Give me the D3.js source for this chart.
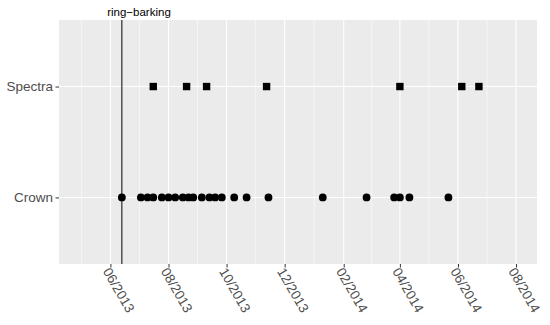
<!DOCTYPE html>
<html>
<head>
<meta charset="utf-8">
<script src="https://cdn.jsdelivr.net/npm/d3@7"></script>
<style>
  body { margin: 0; background: #fff; }
  text { font-family: "Liberation Sans", Arial, sans-serif; }
</style>
</head>
<body>
<script>
(function() {

var crown_dates = [
  "2013-06-13", "2013-07-03", "2013-07-10", "2013-07-16", "2013-07-25",
  "2013-08-01", "2013-08-08", "2013-08-16", "2013-08-22", "2013-08-27",
  "2013-09-05", "2013-09-13", "2013-09-19", "2013-09-26", "2013-10-09",
  "2013-10-22", "2013-11-14", "2014-01-10", "2014-02-25", "2014-03-26",
  "2014-04-01", "2014-04-11", "2014-05-22"
];
var spectra_dates = [
  "2013-07-16", "2013-08-20", "2013-09-10", "2013-11-12",
  "2014-04-01", "2014-06-05", "2014-06-23"
];
var categories = ["Crown", "Spectra"];
var x_ticks = [
  "2013-06-01", "2013-08-01", "2013-10-01", "2013-12-01",
  "2014-02-01", "2014-04-01", "2014-06-01", "2014-08-01"
];
var x_limits = ["2013-04-08", "2014-08-23"];
var ringbark_date = "2013-06-13",
    ringbark_label_date = "2013-07-01",
    ringbark_label = "ring\u2212barking";

var width = 550, height = 325,
    m = {top: 20, right: 13, bottom: 61, left: 59},
    pw = width - m.left - m.right,
    ph = height - m.top - m.bottom,
    parse = d3.timeParse("%Y-%m-%d"),
    fmt = d3.timeFormat("%m/%Y");

var x = d3.scaleTime()
  .domain(x_limits.map(parse))
  .range([0, pw]);

// discrete y with ggplot's 0.6 expansion
var y_num = d3.scaleLinear().domain([0.4, 2.6]).range([ph, 0]);
var y = function(c) { return y_num(categories.indexOf(c) + 1); };

var majors = x_ticks.map(parse);
// minor breaks half way between majors (one extra on each side)
var minors = [];
for (var i = -1; i < majors.length; i++) {
  var a = i < 0 ? d3.timeMonth.offset(majors[0], -2) : majors[i],
      b = i + 1 < majors.length ? majors[i+1] : d3.timeMonth.offset(majors[i], 2);
  minors.push(new Date((+a + +b) / 2));
}
minors = minors.filter(function(d) { return d >= x.domain()[0] && d <= x.domain()[1]; });

var svg = d3.select("body").append("svg")
  .attr("width", width)
  .attr("height", height);

var g = svg.append("g")
  .attr("transform", "translate(" + m.left + "," + m.top + ")");

g.append("rect")
  .attr("width", pw)
  .attr("height", ph)
  .attr("fill", "#EBEBEB");

g.selectAll("line.minor").data(minors).enter().append("line")
  .attr("class", "minor")
  .attr("x1", function(d) { return x(d); })
  .attr("x2", function(d) { return x(d); })
  .attr("y1", 0).attr("y2", ph)
  .attr("stroke", "#fff").attr("stroke-width", 0.55);

g.selectAll("line.major").data(majors).enter().append("line")
  .attr("class", "major")
  .attr("x1", function(d) { return x(d); })
  .attr("x2", function(d) { return x(d); })
  .attr("y1", 0).attr("y2", ph)
  .attr("stroke", "#fff").attr("stroke-width", 1.1);

g.selectAll("line.ymajor").data(categories).enter().append("line")
  .attr("class", "ymajor")
  .attr("x1", 0).attr("x2", pw)
  .attr("y1", function(d) { return y(d); })
  .attr("y2", function(d) { return y(d); })
  .attr("stroke", "#fff").attr("stroke-width", 1.1);

// ring-barking marker
g.append("line")
  .attr("x1", x(parse(ringbark_date)))
  .attr("x2", x(parse(ringbark_date)))
  .attr("y1", 0).attr("y2", ph)
  .attr("stroke", "#1a1a1a").attr("stroke-width", 1.1);

g.append("text")
  .attr("x", x(parse(ringbark_label_date)))
  .attr("y", -4)
  .attr("text-anchor", "middle")
  .attr("font-size", 11.5)
  .attr("fill", "#000")
  .text(ringbark_label);

g.selectAll("circle").data(crown_dates).enter().append("circle")
  .attr("cx", function(d) { return x(parse(d)); })
  .attr("cy", y("Crown"))
  .attr("r", 3.9)
  .attr("fill", "#000");

var sq = 7.4;
g.selectAll("rect.pt").data(spectra_dates).enter().append("rect")
  .attr("class", "pt")
  .attr("x", function(d) { return x(parse(d)) - sq / 2; })
  .attr("y", y("Spectra") - sq / 2)
  .attr("width", sq).attr("height", sq)
  .attr("fill", "#000");

// axes
var xa = g.append("g")
  .attr("transform", "translate(0," + ph + ")")
  .call(d3.axisBottom(x).tickValues(majors).tickFormat(fmt).tickSize(3.5).tickPadding(3));
xa.select(".domain").remove();
xa.selectAll("line").attr("stroke", "#333");
xa.selectAll("text")
  .attr("font-size", 13.5)
  .attr("fill", "#4D4D4D")
  .attr("text-anchor", "start")
  .attr("x", 0).attr("y", 0).attr("dy", "0.72em")
  .attr("transform", "translate(0,2.5) rotate(60)");

var ya = g.append("g")
  .call(d3.axisLeft(y_num).tickValues([1, 2])
    .tickFormat(function(d) { return categories[d - 1]; })
    .tickSize(3.5).tickPadding(2.5));
ya.select(".domain").remove();
ya.selectAll("line").attr("stroke", "#333");
ya.selectAll("text")
  .attr("font-size", 13.5)
  .attr("fill", "#4D4D4D");

})();
</script>
</body>
</html>
